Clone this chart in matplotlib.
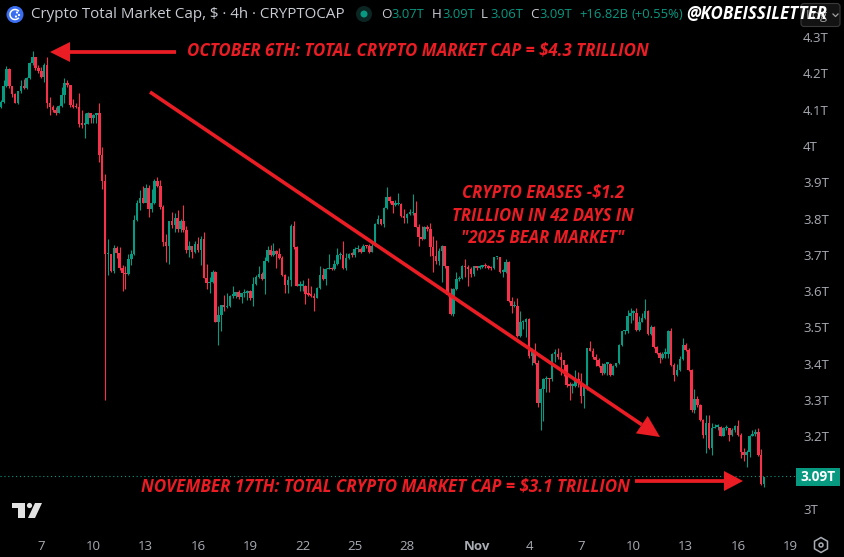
import numpy as np
import matplotlib
matplotlib.use('Agg')
import matplotlib.pyplot as plt
from matplotlib.patches import Circle, FancyBboxPatch, Polygon, Rectangle, RegularPolygon, Arc

# 4h candles, in trillions of dollars
first_open = 4.106
closes = [
    4.122, 4.165, 4.211, 4.165, 4.142, 4.119, 4.150, 4.165, 4.159, 4.186,
    4.228, 4.244, 4.214, 4.207, 4.189, 4.223, 4.119, 4.106, 4.099, 4.090,
    4.110, 4.140, 4.172, 4.168, 4.113, 4.108, 4.106, 4.061, 4.058, 4.061,
    4.090, 4.076, 4.085, 4.090, 3.975, 3.904, 3.701, 3.701, 3.656, 3.719,
    3.704, 3.665, 3.651, 3.646, 3.688, 3.703, 3.796, 3.842, 3.857, 3.844,
    3.884, 3.827, 3.842, 3.904, 3.890, 3.833, 3.736, 3.725, 3.794, 3.782,
    3.802, 3.770, 3.794, 3.769, 3.714, 3.723, 3.709, 3.730, 3.712, 3.743,
    3.636, 3.622, 3.625, 3.653, 3.516, 3.534, 3.562, 3.555, 3.559, 3.587,
    3.587, 3.597, 3.585, 3.594, 3.596, 3.601, 3.582, 3.620, 3.640, 3.647,
    3.634, 3.683, 3.714, 3.700, 3.711, 3.703, 3.691, 3.645, 3.617, 3.631,
    3.780, 3.721, 3.615, 3.615, 3.615, 3.593, 3.590, 3.587, 3.582, 3.608,
    3.644, 3.634, 3.661, 3.662, 3.660, 3.675, 3.699, 3.699, 3.663, 3.691,
    3.703, 3.700, 3.716, 3.717, 3.709, 3.725, 3.723, 3.708, 3.725, 3.785,
    3.798, 3.785, 3.828, 3.859, 3.847, 3.838, 3.839, 3.840, 3.807, 3.801,
    3.813, 3.815, 3.816, 3.778, 3.750, 3.744, 3.778, 3.771, 3.721, 3.697,
    3.684, 3.711, 3.723, 3.668, 3.590, 3.537, 3.605, 3.633, 3.636, 3.670,
    3.666, 3.661, 3.648, 3.668, 3.665, 3.666, 3.672, 3.668, 3.665, 3.663,
    3.693, 3.693, 3.654, 3.654, 3.681, 3.574, 3.558, 3.559, 3.477, 3.514,
    3.515, 3.524, 3.420, 3.434, 3.401, 3.293, 3.330, 3.358, 3.358, 3.357,
    3.427, 3.427, 3.418, 3.411, 3.397, 3.342, 3.339, 3.339, 3.357, 3.351,
    3.312, 3.337, 3.443, 3.436, 3.418, 3.411, 3.394, 3.374, 3.400, 3.400,
    3.369, 3.394, 3.401, 3.452, 3.489, 3.489, 3.532, 3.541, 3.541, 3.493,
    3.516, 3.525, 3.544, 3.482, 3.502, 3.447, 3.429, 3.415, 3.427, 3.427,
    3.489, 3.397, 3.369, 3.383, 3.412, 3.452, 3.438, 3.383, 3.273, 3.302,
    3.287, 3.244, 3.204, 3.236, 3.167, 3.222, 3.227, 3.227, 3.201, 3.222,
    3.222, 3.204, 3.218, 3.229, 3.204, 3.158, 3.149, 3.158, 3.201, 3.207,
    3.211, 3.149, 3.068, 3.089,
]
highs = [
    4.127, 4.182, 4.220, 4.216, 4.165, 4.145, 4.152, 4.182, 4.183, 4.189,
    4.232, 4.262, 4.244, 4.223, 4.218, 4.228, 4.246, 4.136, 4.113, 4.108,
    4.113, 4.161, 4.186, 4.182, 4.165, 4.128, 4.117, 4.145, 4.099, 4.090,
    4.094, 4.090, 4.088, 4.092, 4.117, 3.998, 3.923, 3.744, 3.703, 3.727,
    3.725, 3.721, 3.672, 3.669, 3.703, 3.714, 3.810, 3.851, 3.879, 3.890,
    3.895, 3.893, 3.881, 3.908, 3.915, 3.906, 3.837, 3.758, 3.794, 3.819,
    3.815, 3.824, 3.798, 3.837, 3.780, 3.738, 3.725, 3.739, 3.750, 3.752,
    3.763, 3.675, 3.640, 3.658, 3.655, 3.559, 3.562, 3.590, 3.594, 3.590,
    3.614, 3.597, 3.603, 3.596, 3.606, 3.603, 3.603, 3.638, 3.645, 3.668,
    3.654, 3.695, 3.725, 3.727, 3.732, 3.714, 3.718, 3.697, 3.648, 3.642,
    3.785, 3.794, 3.725, 3.629, 3.631, 3.617, 3.636, 3.615, 3.594, 3.611,
    3.670, 3.663, 3.663, 3.703, 3.666, 3.686, 3.718, 3.709, 3.738, 3.706,
    3.706, 3.708, 3.721, 3.727, 3.721, 3.730, 3.727, 3.730, 3.734, 3.787,
    3.810, 3.798, 3.831, 3.886, 3.861, 3.847, 3.850, 3.870, 3.842, 3.826,
    3.815, 3.826, 3.868, 3.847, 3.784, 3.780, 3.780, 3.783, 3.789, 3.752,
    3.741, 3.718, 3.727, 3.723, 3.670, 3.608, 3.608, 3.654, 3.642, 3.672,
    3.688, 3.672, 3.666, 3.670, 3.670, 3.673, 3.673, 3.677, 3.672, 3.670,
    3.693, 3.695, 3.693, 3.660, 3.688, 3.684, 3.583, 3.574, 3.581, 3.544,
    3.521, 3.526, 3.526, 3.443, 3.458, 3.411, 3.333, 3.360, 3.365, 3.360,
    3.429, 3.441, 3.443, 3.431, 3.411, 3.400, 3.351, 3.348, 3.383, 3.376,
    3.374, 3.339, 3.443, 3.463, 3.443, 3.427, 3.415, 3.403, 3.401, 3.401,
    3.401, 3.397, 3.403, 3.455, 3.491, 3.493, 3.547, 3.553, 3.547, 3.553,
    3.532, 3.539, 3.579, 3.547, 3.507, 3.504, 3.449, 3.431, 3.431, 3.443,
    3.493, 3.498, 3.401, 3.400, 3.420, 3.470, 3.457, 3.443, 3.385, 3.330,
    3.310, 3.290, 3.247, 3.259, 3.259, 3.236, 3.234, 3.233, 3.229, 3.227,
    3.232, 3.222, 3.222, 3.232, 3.244, 3.209, 3.167, 3.163, 3.204, 3.218,
    3.220, 3.222, 3.165, 3.089,
]
lows = [
    4.104, 4.119, 4.161, 4.159, 4.136, 4.117, 4.116, 4.145, 4.156, 4.156,
    4.184, 4.223, 4.209, 4.202, 4.186, 4.177, 4.104, 4.085, 4.094, 4.085,
    4.090, 4.108, 4.117, 4.161, 4.108, 4.104, 4.104, 4.053, 4.049, 4.021,
    4.061, 4.062, 4.062, 4.062, 3.957, 3.881, 3.299, 3.645, 3.654, 3.649,
    3.691, 3.657, 3.601, 3.606, 3.645, 3.672, 3.700, 3.794, 3.824, 3.842,
    3.847, 3.803, 3.819, 3.840, 3.888, 3.826, 3.723, 3.680, 3.675, 3.773,
    3.764, 3.764, 3.764, 3.764, 3.706, 3.695, 3.691, 3.706, 3.709, 3.672,
    3.635, 3.605, 3.596, 3.622, 3.515, 3.452, 3.491, 3.544, 3.553, 3.557,
    3.580, 3.580, 3.578, 3.568, 3.585, 3.576, 3.576, 3.560, 3.617, 3.635,
    3.631, 3.592, 3.679, 3.697, 3.697, 3.665, 3.688, 3.642, 3.594, 3.596,
    3.615, 3.716, 3.613, 3.599, 3.599, 3.565, 3.587, 3.583, 3.544, 3.581,
    3.605, 3.631, 3.617, 3.660, 3.659, 3.659, 3.672, 3.688, 3.661, 3.657,
    3.688, 3.695, 3.695, 3.709, 3.706, 3.712, 3.718, 3.706, 3.708, 3.725,
    3.785, 3.783, 3.776, 3.826, 3.844, 3.816, 3.835, 3.838, 3.805, 3.787,
    3.789, 3.811, 3.811, 3.776, 3.725, 3.741, 3.743, 3.767, 3.697, 3.654,
    3.675, 3.672, 3.624, 3.665, 3.587, 3.535, 3.532, 3.604, 3.629, 3.633,
    3.640, 3.615, 3.638, 3.642, 3.659, 3.660, 3.663, 3.665, 3.660, 3.659,
    3.661, 3.688, 3.651, 3.640, 3.651, 3.571, 3.539, 3.556, 3.475, 3.475,
    3.495, 3.475, 3.415, 3.397, 3.400, 3.282, 3.218, 3.241, 3.321, 3.323,
    3.353, 3.406, 3.412, 3.369, 3.365, 3.337, 3.301, 3.319, 3.335, 3.337,
    3.291, 3.278, 3.328, 3.434, 3.412, 3.394, 3.390, 3.369, 3.372, 3.369,
    3.365, 3.368, 3.390, 3.400, 3.449, 3.482, 3.484, 3.512, 3.521, 3.489,
    3.491, 3.516, 3.523, 3.480, 3.480, 3.443, 3.427, 3.403, 3.412, 3.415,
    3.415, 3.394, 3.353, 3.365, 3.381, 3.411, 3.434, 3.379, 3.268, 3.264,
    3.282, 3.241, 3.195, 3.155, 3.165, 3.149, 3.222, 3.218, 3.200, 3.200,
    3.218, 3.186, 3.200, 3.213, 3.200, 3.140, 3.131, 3.115, 3.144, 3.200,
    3.200, 3.147, 3.066, 3.060,
]
last_price = 3.09

price_ticks = [3.0, 3.1, 3.2, 3.3, 3.4, 3.5, 3.6, 3.7, 3.8, 3.9, 4.0, 4.1, 4.2, 4.3]
price_labels = ['3T', '3.1T', '3.2T', '3.3T', '3.4T', '3.5T', '3.6T', '3.7T',
                '3.8T', '3.9T', '4T', '4.1T', '4.2T', '4.3T']
date_ticks = [14, 32, 50, 68, 86, 104, 122, 140, 164, 182, 200, 218, 236, 254, 272]
date_labels = ['7', '10', '13', '16', '19', '22', '25', '28', 'Nov', '4', '7', '10', '13', '16', '19']

GREEN = '#089981'
RED = '#f7314a'
ARROW = '#ea1c24'
GRAY = '#a9acb3'
UI_FONT = ['Open Sans', 'DejaVu Sans']

W, H = 844, 557
fig = plt.figure(figsize=(W / 100, H / 100), dpi=100, facecolor='black')

# price pane, pixel scale: 363 px per 1T, 2.903 px per candle
ax = fig.add_axes([0, 30 / H, 796 / W, 527 / H], facecolor='black')
ax.set_xlim(-0.6 / 2.903, 795.4 / 2.903)
ax.set_ylim(4.402 - 527 / 363, 4.402)
for s in ax.spines.values():
    s.set_visible(False)

closes = np.array(closes)
opens = np.concatenate([[first_open], closes[:-1]])
x = np.arange(len(closes))
colors = [GREEN if c >= o else RED for o, c in zip(opens, closes)]

ax.vlines(x, lows, highs, colors=colors, linewidth=0.8, zorder=2)
height = np.maximum(np.abs(closes - opens), 0.004)
ax.bar(x, height, bottom=np.minimum(opens, closes), width=0.88, color=colors, linewidth=0, zorder=3)
ax.axhline(last_price, color=GREEN, linewidth=0.8, linestyle=(0, (1, 2.5)), zorder=1)

ax.set_xticks(date_ticks)
ax.set_xticklabels(date_labels, family=UI_FONT, fontsize=9.5, color=GRAY)
ax.yaxis.tick_right()
ax.set_yticks(price_ticks)
ax.set_yticklabels(price_labels, family=UI_FONT, fontsize=9.5, color=GRAY)
ax.tick_params(axis='x', length=0, pad=9)
ax.tick_params(axis='y', length=0, pad=5)
ax.get_xticklabels()[8].set_fontweight('bold')

# overlay in pixel coordinates for the header and the drawn annotations
ov = fig.add_axes([0, 0, 1, 1])
ov.set_xlim(0, W)
ov.set_ylim(H, 0)
ov.axis('off')


def ui(px, py, s, color, size=10, **kw):
    ov.text(px, py, s, color=color, fontsize=size, family=UI_FONT, ha='left', va='center', **kw)


def note(px, py, s, ha='left', size=12.2):
    ov.text(px, py, s, color=ARROW, fontsize=size, family=['Open Sans', 'DejaVu Sans'], weight='bold',
            style='italic', ha=ha, va='center')


def arrow(x0, y0, x1, y1, head_len, head_half, lw):
    # shaft plus a filled triangular head ending at (x1, y1)
    d = np.array([x1 - x0, y1 - y0], dtype=float)
    d /= np.hypot(*d)
    n = np.array([-d[1], d[0]])
    tip = np.array([x1, y1], dtype=float)
    base = tip - d * head_len
    ov.plot([x0, base[0]], [y0, base[1]], color=ARROW, linewidth=lw, solid_capstyle='butt')
    ov.add_patch(Polygon([tip, base + n * head_half, base - n * head_half], closed=True, color=ARROW, linewidth=0))


# header
ov.add_patch(Circle((15, 14.5), 8.5, color='#3a6df0', linewidth=0))
ov.add_patch(Arc((15, 14.5), 10, 10, theta1=40, theta2=320, color='white', linewidth=1.1))
ov.add_patch(Circle((17, 12.5), 1.1, color='white', linewidth=0))
ov.add_patch(Circle((19, 15), 1.1, color='white', linewidth=0))
ov.add_patch(Circle((16, 16.5), 1.1, color='white', linewidth=0))
ui(31, 14.5, 'Crypto Total Market Cap, $ · 4h · CRYPTOCAP', '#c9ccd3', size=10.9)
ov.add_patch(Circle((364, 14), 8, color='#0c2623', linewidth=0))
ov.add_patch(Circle((364, 14), 3.5, color=GREEN, linewidth=0))
for px, s in [(381, 'O'), (432, 'H'), (481, 'L'), (530, 'C')]:
    ui(px, 15, s, '#c9ccd3', size=9.6)
for px, s in [(391, '3.07T'), (442, '3.09T'), (490, '3.06T'), (539, '3.09T'),
              (579, '+16.82B'), (632, '(+0.55%)')]:
    ui(px, 15, s, GREEN, size=9.4)

# scale button hidden behind the watermark
ov.add_patch(FancyBboxPatch((801, 3.5), 39, 23, boxstyle='round,pad=0,rounding_size=3',
                            facecolor='#131313', edgecolor='#3a3a3a', linewidth=0.8))
ui(806, 15, 'Log', '#a0a0a0', size=9.5)
ov.plot([833, 835.5, 838], [14, 16.5, 14], color='#a0a0a0', linewidth=0.9)
ov.text(686, 14, '@KOBEISSILETTER', color='white', fontsize=12.2, family=['Open Sans', 'DejaVu Sans'],
        weight='bold', style='italic', ha='left', va='center')

# annotations
arrow(176, 52, 50, 52, 20, 10, 2.7)
note(187, 51, 'OCTOBER 6TH: TOTAL CRYPTO MARKET CAP = $4.3 TRILLION')
arrow(150, 92, 660, 437, 22, 10.5, 2.6)
note(543, 193, 'CRYPTO ERASES -$1.2', ha='center', size=12)
note(543, 216, 'TRILLION IN 42 DAYS IN', ha='center', size=12)
note(543, 238, '"2025 BEAR MARKET"', ha='center', size=12)
note(141, 486, 'NOVEMBER 17TH: TOTAL CRYPTO MARKET CAP = $3.1 TRILLION', size=12.25)
arrow(635, 481, 743, 481, 19, 10, 2.7)

# last price tag
ov.add_patch(Rectangle((796, 468), 44, 18, color=GREEN, linewidth=0))
ov.text(818, 477, '3.09T', color='white', fontsize=9.8, family=UI_FONT, weight='bold', ha='center', va='center')

# TradingView mark
logo = '#e2e2e2'
ov.add_patch(Polygon([(12, 503), (25, 503), (25, 518), (17.5, 518), (17.5, 508), (12, 508)], closed=True, color=logo, linewidth=0))
ov.add_patch(Circle((29.5, 505.5), 2.6, color=logo, linewidth=0))
ov.add_patch(Polygon([(35, 503), (42, 503), (35, 518), (28, 518)], closed=True, color=logo, linewidth=0))

# settings icon
ov.add_patch(RegularPolygon((821, 545), 6, radius=7.5, facecolor='none', edgecolor=GRAY, linewidth=1.1))
ov.add_patch(Circle((821, 545), 2, facecolor='none', edgecolor=GRAY, linewidth=1.1))

fig.savefig('out.png', dpi=100, facecolor='black')
